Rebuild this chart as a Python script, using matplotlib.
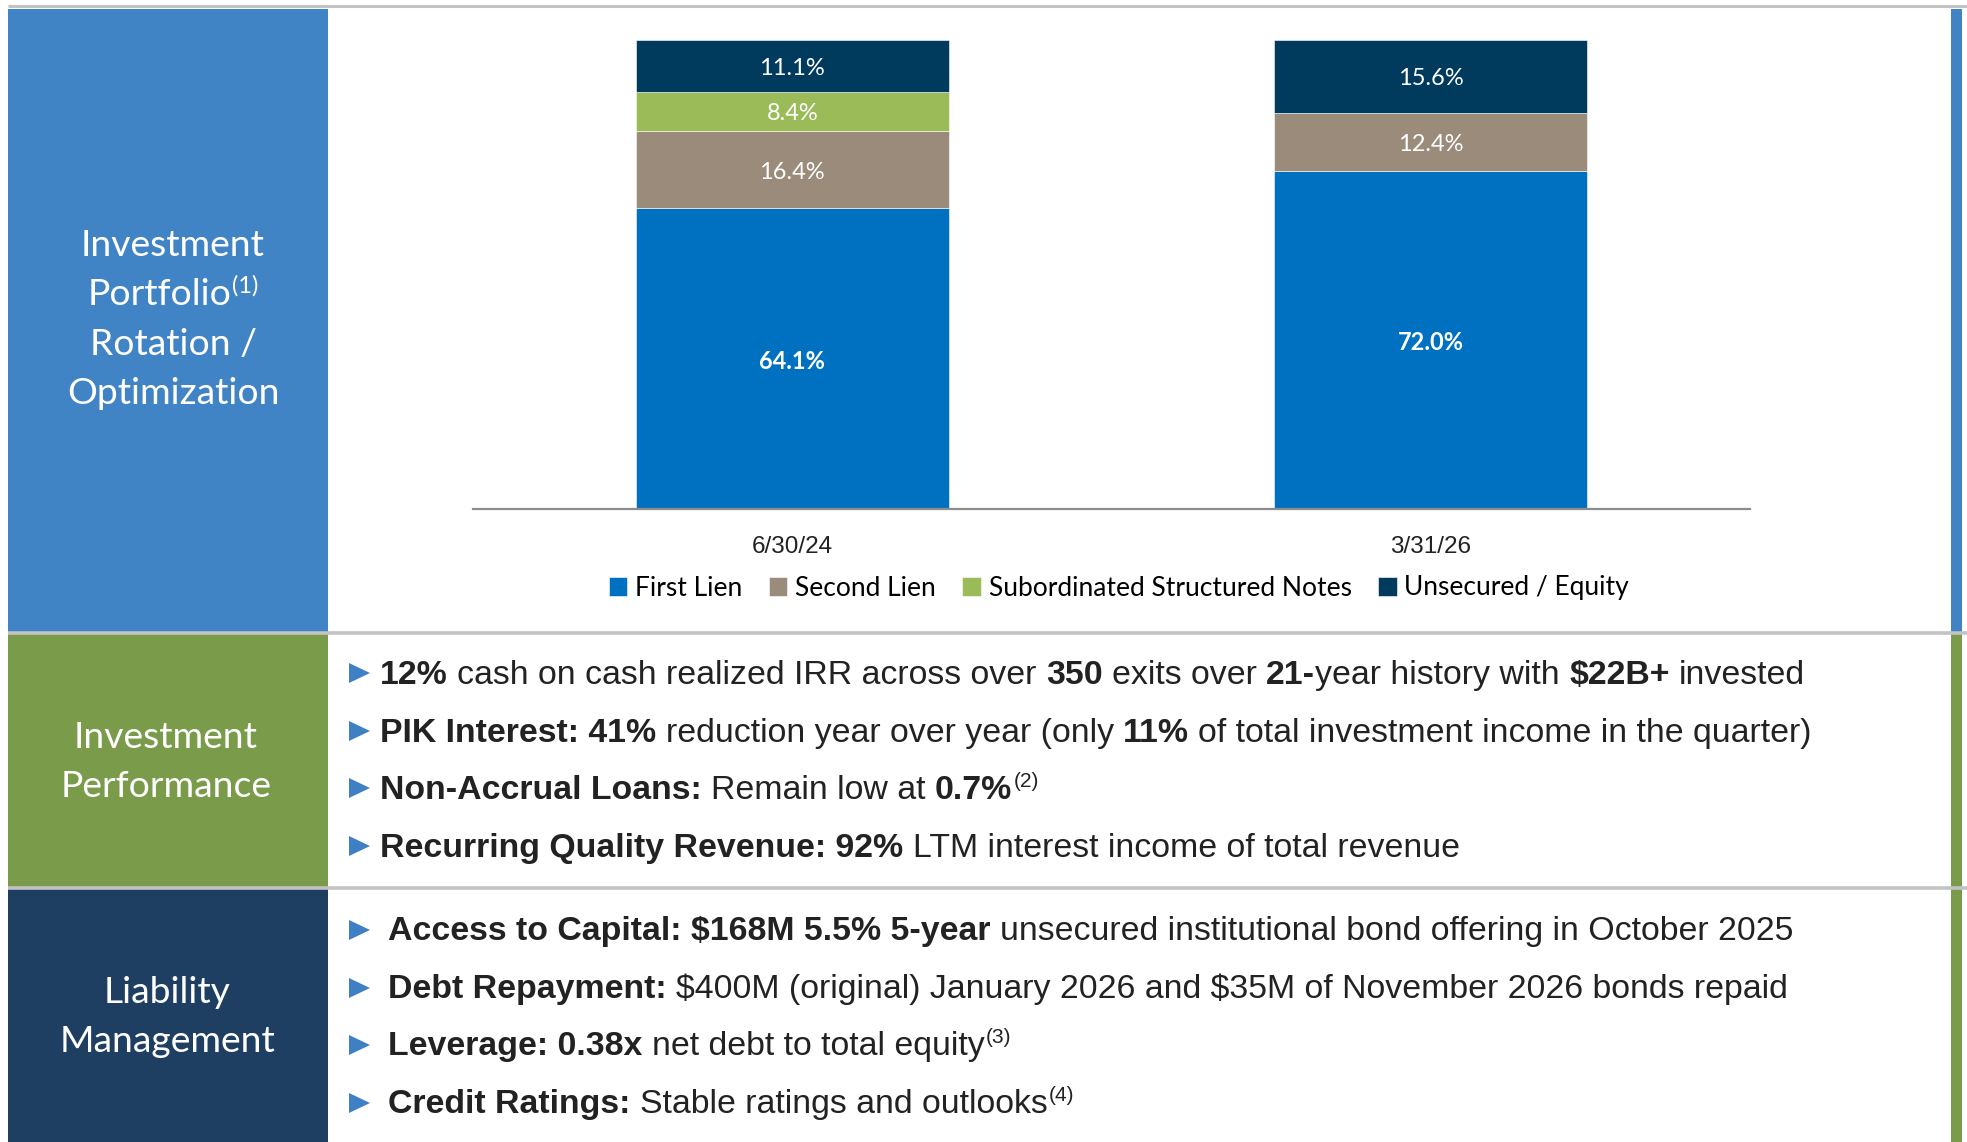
import matplotlib
matplotlib.use('Agg')
import matplotlib.pyplot as plt
from matplotlib.patches import Rectangle, Polygon
from matplotlib import font_manager

W, H = 1967, 1142

# chart data
dates = ['6/30/24', '3/31/26']
first_lien = [64.1, 72.0]
second_lien = [16.4, 12.4]
sub_notes = [8.4, 0.0]
unsecured = [11.1, 15.6]
series_names = ['First Lien', 'Second Lien', 'Subordinated Structured Notes', 'Unsecured / Equity']
series_colors = ['#0070c0', '#9a8b7b', '#9bbb59', '#003a5d']

# text rows: (text, style) with style b = bold, r = regular, s = superscript
perf_lines = [
    [('12%', 'b'), (' cash on cash realized IRR across over ', 'r'), ('350', 'b'),
     (' exits over ', 'r'), ('21-', 'b'), ('year history with ', 'r'), ('$22B+', 'b'), (' invested', 'r')],
    [('PIK Interest: 41%', 'b'), (' reduction year over year (only ', 'r'), ('11%', 'b'),
     (' of total investment income in the quarter)', 'r')],
    [('Non-Accrual Loans:', 'b'), (' Remain low at ', 'r'), ('0.7%', 'b'), ('(2)', 's')],
    [('Recurring Quality Revenue: 92%', 'b'), (' LTM interest income of total revenue', 'r')],
]
liab_lines = [
    [('Access to Capital: $168M 5.5% 5-year', 'b'), (' unsecured institutional bond offering in October 2025', 'r')],
    [('Debt Repayment:', 'b'), (' $400M (original) January 2026 and $35M of November 2026 bonds repaid', 'r')],
    [('Leverage: 0.38x', 'b'), (' net debt to total equity', 'r'), ('(3)', 's')],
    [('Credit Ratings:', 'b'), (' Stable ratings and outlooks', 'r'), ('(4)', 's')],
]

blue_panel = '#4184c5'
green_panel = '#7a9c4a'
navy_panel = '#1f3f62'
arrow_col = '#3f80c4'
txt_col = '#222222'
line_col = '#c3c3c3'

try:
    font_manager.findfont('Liberation Sans Narrow', fallback_to_default=False)
    tick_font, tick_size = 'Liberation Sans Narrow', 20
except Exception:
    tick_font, tick_size = 'Liberation Sans', 17.5

fig = plt.figure(figsize=(W / 100, H / 100), dpi=100)
fig.patch.set_facecolor('white')
r = fig.canvas.get_renderer()

# background layer in pixel coordinates
bg = fig.add_axes([0, 0, 1, 1])
bg.set_xlim(0, W)
bg.set_ylim(H, 0)
bg.axis('off')

bg.add_patch(Rectangle((8, 9), 320, 624, color=blue_panel, lw=0))
bg.add_patch(Rectangle((8, 633), 320, 255, color=green_panel, lw=0))
bg.add_patch(Rectangle((8, 888), 320, 260, color=navy_panel, lw=0))
bg.add_patch(Rectangle((1951, 9), 11, 624, color=blue_panel, lw=0))
bg.add_patch(Rectangle((1951, 633), 11, 515, color=green_panel, lw=0))
for yy, lw in [(6, 2.2), (633, 2.6), (888, 2.6)]:
    bg.plot([8, W], [yy, yy], color=line_col, lw=lw, solid_capstyle='butt')


def centered_lines(cx, baselines, lines, size=26.8):
    for base, parts in zip(baselines, lines):
        main, sup = parts
        t = bg.text(0, base, main, fontsize=size, family='Lato', color='white', va='baseline', ha='left')
        w = t.get_window_extent(renderer=r).width
        ws = 0
        if sup:
            s = bg.text(0, base - 12, sup, fontsize=17, family='Lato', color='white', va='baseline', ha='left')
            ws = s.get_window_extent(renderer=r).width
        x0 = cx - (w + ws) / 2
        t.set_x(x0)
        if sup:
            s.set_x(x0 + w)


centered_lines(173, [256, 305, 355, 404],
               [('Investment', ''), ('Portfolio', '(1)'), ('Rotation /', ''), ('Optimization', '')])
centered_lines(166, [748, 797], [('Investment', ''), ('Performance', '')])
centered_lines(167, [1003, 1052], [('Liability', ''), ('Management', '')])


def draw_runs(x, base, runs, size=24.4):
    sp = size * 100 / 72 * 0.2778
    for s, style in runs:
        lead = len(s) - len(s.lstrip(' '))
        trail = len(s) - len(s.rstrip(' '))
        x += lead * sp
        s = s.strip(' ')
        if style == 's':
            t = bg.text(x + 1, base - 12, s, fontsize=15, family='Liberation Sans', color=txt_col,
                        va='baseline', ha='left', parse_math=False)
        else:
            t = bg.text(x, base, s, fontsize=size, family='Liberation Sans', color=txt_col,
                        fontweight='bold' if style == 'b' else 'normal',
                        va='baseline', ha='left', parse_math=False)
        x += t.get_window_extent(renderer=r).width + trail * sp


def arrow(x, base):
    c = base - 11
    bg.add_patch(Polygon([(x, c - 10), (x, c + 10), (x + 21, c)], closed=True, color=arrow_col, lw=0))


for base, runs in zip([684, 742, 799, 857], perf_lines):
    arrow(349, base)
    draw_runs(380, base, runs)
for base, runs in zip([940, 998, 1055, 1113], liab_lines):
    arrow(349, base + 1)
    draw_runs(388, base, runs)

# stacked bar chart
ax = fig.add_axes([473 / W, 1 - 509.4 / H, 1277 / W, 469.8 / H])
ax.set_zorder(2)
ax.patch.set_visible(False)
x = list(range(len(dates)))
bottoms = [0.0] * len(dates)
for name, vals, col in zip(series_names, [first_lien, second_lien, sub_notes, unsecured], series_colors):
    ax.bar(x, vals, 0.49, bottom=bottoms, color=col, edgecolor='white', linewidth=0.4, label=name)
    for xi, v, b in zip(x, vals, bottoms):
        if v > 0:
            ax.annotate(f'{v:.1f}%', (xi, b + v / 2), xytext=(0, -2.5), textcoords='offset pixels',
                        ha='center', va='center', color='white', family='Lato', fontsize=17,
                        fontweight='bold' if name == 'First Lien' else 'normal')
    bottoms = [b + v for b, v in zip(bottoms, vals)]

ax.set_xlim(-0.5, 1.5)
ax.set_ylim(0, 100)
for sp in ['top', 'left', 'right']:
    ax.spines[sp].set_visible(False)
ax.spines['bottom'].set_color('#8c8c8c')
ax.spines['bottom'].set_linewidth(1.6)
ax.set_yticks([])
ax.set_xticks(x)
ax.set_xticklabels(dates, family=tick_font, fontsize=tick_size, color=txt_col)
ax.tick_params(axis='x', length=0, pad=19)

ax.legend(loc='center', bbox_to_anchor=(1119 / W, 1 - 588 / H), bbox_transform=fig.transFigure,
          ncol=4, frameon=False, prop={'family': 'Lato', 'size': 19},
          handlelength=0.7, handleheight=0.7, handletextpad=0.3, columnspacing=1.0)

fig.savefig('out.png', dpi=100, facecolor='white')
